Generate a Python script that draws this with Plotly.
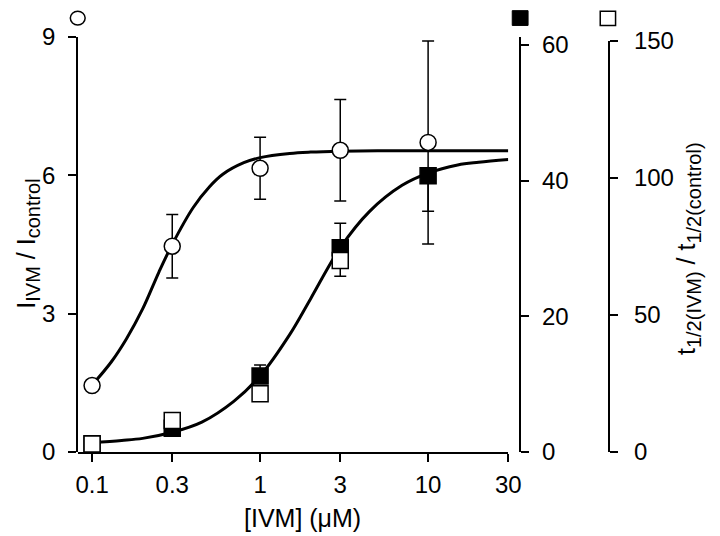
import plotly.graph_objects as go

# ---------------- data ----------------
conc = [0.1, 0.3, 1, 3, 10]
i_ratio = [1.44, 4.46, 6.15, 6.54, 6.71]
i_err = [0, 0.69, 0.67, 1.1, 2.2]

t_fill_conc = [0.1, 0.3, 1, 3, 10]
t_fill = [1.2, 3.5, 11.2, 30.1, 40.7]
t_fill_err_plus = [0, 0, 1.6, 3.6, 0]
t_fill_err_minus = [0, 0, 0, 4.2, 5.2]

t_open_conc = [0.1, 0.3, 1, 3]
t_open = [2.9, 11.5, 21.2, 69.8]

fit_i_x = [0.1, 0.13, 0.16, 0.2, 0.25, 0.3, 0.4, 0.5, 0.6, 0.8, 1, 1.5, 2, 3, 5, 10, 30]
fit_i_y = [1.45, 1.95, 2.45, 3.1, 3.9, 4.5, 5.3, 5.75, 6.02, 6.27, 6.38, 6.47, 6.5, 6.52, 6.53, 6.53, 6.53]

fit_t_x = [0.1, 0.15, 0.2, 0.3, 0.45, 0.7, 1, 1.5, 2, 3, 4.5, 7, 10, 15, 20, 30]
fit_t_y = [1.4, 1.7, 2.0, 2.9, 4.4, 7.5, 11.2, 17.3, 22.6, 30.1, 35.5, 39.3, 41.1, 42.3, 42.7, 43.1]

x_ticks = [0.1, 0.3, 1, 3, 10, 30]
x_tick_labels = ["0.1", "0.3", "1", "3", "10", "30"]
y_ticks = [0, 3, 6, 9]
y2_ticks = [0, 20, 40, 60]
y3_ticks = [0, 50, 100, 150]

# ---------------- layout helpers ----------------
W, H = 720, 536
# target pixel positions -> paper fractions (calibrated to the page offset)
def fx(px):
    return ((px - 8) / 0.989) / W
def fy(py):
    return 1 - ((py - 20) / 0.963) / H

FONT = "Liberation Sans, Arial, Helvetica, sans-serif"
BLACK = "black"
TICK_SIZE = 24
TITLE_SIZE = 25
SUB = '<sub><span style="font-size:20px">%s</span></sub>'

fig = go.Figure()

# fitted curves
fig.add_trace(go.Scatter(x=fit_i_x, y=fit_i_y, mode="lines", yaxis="y",
                         line=dict(color=BLACK, width=3, shape="spline", smoothing=1),
                         hoverinfo="skip", showlegend=False))
fig.add_trace(go.Scatter(x=fit_t_x, y=fit_t_y, mode="lines", yaxis="y2",
                         line=dict(color=BLACK, width=3, shape="spline", smoothing=1),
                         hoverinfo="skip", showlegend=False))

# circles (I ratio)
fig.add_trace(go.Scatter(x=conc, y=i_ratio, mode="markers", yaxis="y",
                         marker=dict(symbol="circle", size=16, color="white",
                                     line=dict(color=BLACK, width=1.5)),
                         error_y=dict(type="data", array=i_err, visible=True,
                                      color=BLACK, thickness=1.5, width=6),
                         cliponaxis=False, showlegend=False))

# filled squares
fig.add_trace(go.Scatter(x=t_fill_conc, y=t_fill, mode="markers", yaxis="y2",
                         marker=dict(symbol="square", size=16, color=BLACK,
                                     line=dict(color=BLACK, width=1.5)),
                         error_y=dict(type="data", symmetric=False, array=t_fill_err_plus,
                                      arrayminus=t_fill_err_minus, visible=True,
                                      color=BLACK, thickness=1.5, width=6),
                         cliponaxis=False, showlegend=False))

# open squares
fig.add_trace(go.Scatter(x=t_open_conc, y=t_open, mode="markers", yaxis="y3",
                         marker=dict(symbol="square", size=16, color="white",
                                     line=dict(color=BLACK, width=1.5)),
                         cliponaxis=False, showlegend=False))

axis_common = dict(showgrid=False, zeroline=False, showline=True, linecolor=BLACK,
                   linewidth=2, ticks="outside", ticklen=8, tickwidth=2, tickcolor=BLACK,
                   tickfont=dict(family=FONT, size=TICK_SIZE, color=BLACK))

y_dom = [fy(456), fy(35)]

fig.update_layout(
    width=W, height=H, autosize=False,
    margin=dict(l=0, r=0, t=0, b=0),
    paper_bgcolor="white", plot_bgcolor="rgba(0,0,0,0)",
    showlegend=False,
    xaxis=dict(type="log", range=[-1.0824, 1.4772], domain=[fx(76), fx(511)],
               anchor="y", tickvals=x_ticks, ticktext=x_tick_labels,
               ticklabelstandoff=2, **axis_common),
    yaxis=dict(range=[0, 9], domain=y_dom, anchor="free", position=fx(75),
               tickvals=y_ticks, ticklabelstandoff=8, **axis_common),
    yaxis2=dict(range=[0, 61.2], overlaying="y", side="right", anchor="free",
                position=fx(523), tickvals=y2_ticks, ticklabelstandoff=8, **axis_common),
    yaxis3=dict(range=[0, 150], domain=[fy(456), fy(39)], side="right", anchor="free",
                position=fx(613), tickvals=y3_ticks, ticklabelstandoff=11, **axis_common),
)

# axis titles
fig.add_annotation(text="[IVM] (\u03bcM)", x=fx(303), y=fy(523), xref="paper", yref="paper",
                   xanchor="center", yanchor="middle", showarrow=False,
                   font=dict(family=FONT, size=TITLE_SIZE, color=BLACK))
fig.add_annotation(text="I" + SUB % "IVM" + " / I" + SUB % "control", x=fx(25), y=fy(245),
                   xref="paper", yref="paper", xanchor="center", yanchor="middle",
                   textangle=-90, showarrow=False,
                   font=dict(family=FONT, size=TITLE_SIZE, color=BLACK))
fig.add_annotation(text="t" + SUB % "1/2(IVM)" + " / t" + SUB % "1/2(control)",
                   x=fx(693), y=fy(250),
                   xref="paper", yref="paper", xanchor="center", yanchor="middle",
                   textangle=-90, showarrow=False,
                   font=dict(family=FONT, size=TITLE_SIZE, color=BLACK))

# symbol keys above axes
KEY_TOP, KEY_BOT = 8.5, 23.5
fig.add_shape(type="circle", xref="paper", yref="paper",
              x0=fx(68), x1=fx(83), y0=fy(KEY_BOT - 0.5), y1=fy(KEY_TOP + 0.5),
              line=dict(color=BLACK, width=1.5), fillcolor="white")
fig.add_shape(type="rect", xref="paper", yref="paper",
              x0=fx(515), x1=fx(531), y0=fy(KEY_BOT), y1=fy(KEY_TOP),
              line=dict(color=BLACK, width=1), fillcolor=BLACK)
fig.add_shape(type="rect", xref="paper", yref="paper",
              x0=fx(604), x1=fx(619.5), y0=fy(KEY_BOT), y1=fy(KEY_TOP + 0.5),
              line=dict(color=BLACK, width=1.5), fillcolor="white")

fig.write_html("out.html")
